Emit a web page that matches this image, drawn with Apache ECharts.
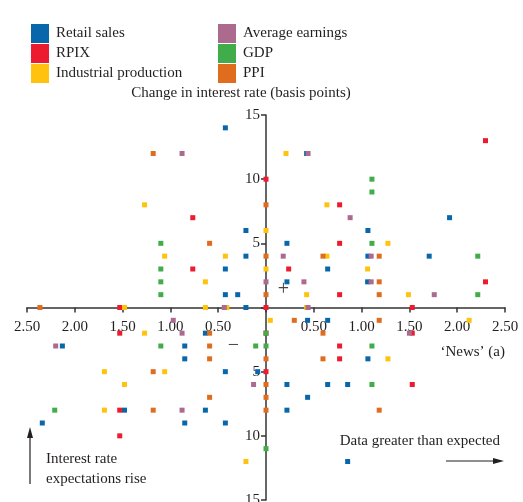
<!DOCTYPE html>
<html>
<head>
    <meta charset="utf-8">
    <title>News and interest rate expectations</title>
    <script src="https://cdn.jsdelivr.net/npm/echarts@6/dist/echarts.min.js"></script>
    <style type="text/css">
        body{ margin:0; background:#fff; }
    </style>
</head>
<body>
<div id="main" style="width:523px;height:502px;"></div>

<script type="text/javascript">
// series names and colours
var names = ['Retail sales', 'RPIX', 'Industrial production', 'Average earnings', 'GDP', 'PPI'];
var colors = ['#0867aa', '#ec1c2e', '#ffc20e', '#ac6a8f', '#40ad4a', '#e06c1e'];

// [news, change in rate (bp)]
var retail = [[-0.425,14],[-0.21,6],[-0.21,4],[-0.425,3],[-0.425,1],[-0.296,1],[-0.21,0],
    [0.425,12],[1.92,7],[1.066,6],[0.219,5],[1.066,4],[1.707,4],[0.645,3],[0.219,2],[1.063,2],
    [-0.634,-2],[0.435,-1],[0.645,-1],[-2.13,-3],[-0.85,-3],[-0.85,-4],[1.066,-4],[-0.425,-5],
    [-0.087,-5],[0.219,-6],[0.645,-6],[0.854,-6],[0.435,-7],[-1.48,-8],[-0.634,-8],[0.219,-8],
    [-2.34,-9],[-0.85,-9],[-0.425,-9],[0.854,-12]];
var rpix = [[0,10],[-0.766,7],[-0.766,3],[0,0],[-1.53,0],[2.296,13],[0.77,8],[0.77,5],[0.237,3],
    [2.296,2],[0.77,1],[1.53,0],[-1.53,-2],[1.53,-2],[0,-2],[0.77,-3],[0.77,-4],[0,-5],[1.53,-6],
    [-1.53,-8],[-1.53,-10]];
var industrial = [[-1.27,8],[0,6],[-1.06,4],[-0.425,4],[0,3],[-0.634,2],[-1.48,0],[-0.634,0],
    [-0.41,0],[0.209,12],[0.637,8],[1.275,5],[0.637,4],[1.063,3],[0.425,1],[1.49,1],[0.425,0],
    [-1.27,-2],[0.045,-1],[2.125,-1],[1.275,-4],[-1.69,-5],[-1.06,-5],[-1.48,-6],[-1.69,-8],
    [-0.21,-12]];
var earnings = [[-0.878,12],[0,2],[-0.436,0],[0.44,12],[0.88,7],[0.18,4],[1.10,4],[0.397,2],
    [1.10,2],[1.76,1],[0.44,0],[-0.97,-1],[-0.878,-2],[1.50,-2],[-2.2,-3],[-0.13,-6],[-0.878,-8]];
var gdp = [[-1.10,5],[-1.10,3],[-1.10,2],[-1.10,1],[1.108,10],[1.108,9],[1.108,5],[2.215,4],
    [2.215,1],[0,-2],[-1.10,-3],[-0.108,-3],[0,-3],[1.108,-3],[1.108,-6],[-2.21,-8],[0,-11]];
var ppi = [[-1.18,12],[0,8],[-0.59,5],[0,4],[0,1],[-2.365,0],[0.596,4],[1.184,4],[1.184,2],
    [1.184,1],[-0.59,-2],[0.296,-1],[1.184,-1],[0.596,-2],[-0.59,-3],[-0.59,-4],[0,-4],[0.596,-4],
    [-1.18,-5],[0,-6],[-0.59,-7],[0,-7],[-1.18,-8],[0,-8],[1.184,-8]];

var allData = [retail, rpix, industrial, earnings, gdp, ppi];

var font = 'Liberation Serif';
var ink = '#231f20';

var series = [];
for (var i = 0; i < names.length; i++) {
    series.push({
        name: names[i],
        type: 'scatter',
        symbol: 'rect',
        symbolSize: 5,
        itemStyle: { color: colors[i], opacity: 1 },
        data: allData[i]
    });
}

// grid: 27..505 wide, 115..500 high -> zero lines in the middle
var gridW = 523 - 27 - 18, gridH = 502 - 115 - 2;

var myChart = echarts.init(document.getElementById('main'));
myChart.setOption({
    animation: false,
    color: colors,
    textStyle: { fontFamily: font, color: ink },
    legend: [{
        data: names.slice(0, 3),
        orient: 'vertical',
        left: 26, top: 19,
        icon: 'rect',
        itemWidth: 18, itemHeight: 19, itemGap: 1,
        itemStyle: { opacity: 1 },
        textStyle: { fontFamily: font, fontSize: 15, color: ink, padding: [0, 0, 0, 2] }
    }, {
        data: names.slice(3),
        orient: 'vertical',
        left: 213, top: 19,
        icon: 'rect',
        itemWidth: 18, itemHeight: 19, itemGap: 1,
        itemStyle: { opacity: 1 },
        textStyle: { fontFamily: font, fontSize: 15, color: ink, padding: [0, 0, 0, 2] }
    }],
    grid: { left: 27, right: 18, top: 115, bottom: 2, outerBoundsMode: 'none' },
    xAxis: {
        type: 'value',
        position: 'bottom',
        offset: -gridH / 2,
        min: -2.5, max: 2.5, interval: 0.5,
        axisLine: { onZero: false, lineStyle: { color: '#333', width: 1.5 } },
        axisTick: { show: true, length: 5, lineStyle: { color: '#333', width: 1.5 } },
        splitLine: { show: false },
        axisLabel: {
            margin: 12, fontSize: 15, fontFamily: font, color: ink,
            formatter: function (v) { return v === 0 ? '' : Math.abs(v).toFixed(2); }
        }
    },
    yAxis: {
        type: 'value',
        position: 'left',
        offset: -gridW / 2,
        min: -15, max: 15, interval: 5,
        axisLine: { onZero: false, lineStyle: { color: '#333', width: 1.5 } },
        axisTick: { show: true, length: 5, lineStyle: { color: '#333', width: 1.5 } },
        splitLine: { show: false },
        axisLabel: {
            margin: 6, fontSize: 15, fontFamily: font, color: ink,
            formatter: function (v) { return v === 0 ? '' : String(Math.abs(v)); }
        }
    },
    graphic: [
        { type: 'text', x: 241, y: 93, style: { text: 'Change in interest rate (basis points)',
            font: '15px "Liberation Serif"', fill: ink, textAlign: 'center', textVerticalAlign: 'middle' } },
        { type: 'text', x: 505, y: 352, style: { text: '\u2018News\u2019 (a)',
            font: '15px "Liberation Serif"', fill: ink, textAlign: 'right', textVerticalAlign: 'middle' } },
        { type: 'text', x: 500, y: 441, style: { text: 'Data greater than expected',
            font: '15px "Liberation Serif"', fill: ink, textAlign: 'right', textVerticalAlign: 'middle' } },
        { type: 'text', x: 46, y: 459, style: { text: 'Interest rate',
            font: '15px "Liberation Serif"', fill: ink, textAlign: 'left', textVerticalAlign: 'middle' } },
        { type: 'text', x: 46, y: 479, style: { text: 'expectations rise',
            font: '15px "Liberation Serif"', fill: ink, textAlign: 'left', textVerticalAlign: 'middle' } },
        { type: 'text', x: 283.5, y: 290, style: { text: '+',
            font: '20px "Liberation Serif"', fill: '#444', textAlign: 'center', textVerticalAlign: 'middle' } },
        { type: 'text', x: 233.5, y: 346, style: { text: '\u2212',
            font: '20px "Liberation Serif"', fill: '#444', textAlign: 'center', textVerticalAlign: 'middle' } },
        // horizontal arrow
        { type: 'line', shape: { x1: 446, y1: 461, x2: 496, y2: 461 }, style: { stroke: ink, lineWidth: 1.2 } },
        { type: 'polygon', shape: { points: [[504, 461], [493, 458], [493, 464]] }, style: { fill: ink } },
        // vertical arrow
        { type: 'line', shape: { x1: 30, y1: 484, x2: 30, y2: 436 }, style: { stroke: ink, lineWidth: 1.2 } },
        { type: 'polygon', shape: { points: [[30, 427], [27, 438], [33, 438]] }, style: { fill: ink } }
    ],
    series: series
});
</script>
</body>
</html>
